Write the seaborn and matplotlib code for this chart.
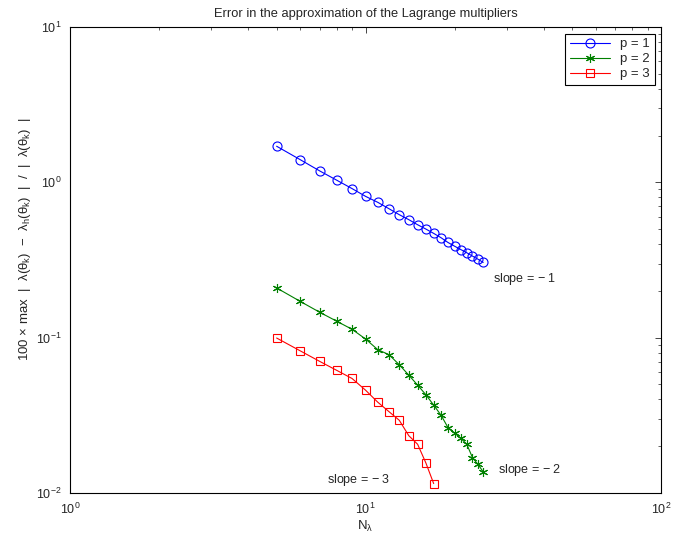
import numpy as np
import pandas as pd
import seaborn as sns
import matplotlib
matplotlib.use("Agg")
import matplotlib.pyplot as plt
from matplotlib.ticker import LogLocator, NullFormatter

# values
n_p1 = list(range(5, 26))
err_p1 = [1.707, 1.401, 1.183, 1.030, 0.911, 0.812, 0.743, 0.676, 0.619, 0.575, 0.533,
          0.500, 0.469, 0.440, 0.410, 0.388, 0.369, 0.352, 0.335, 0.320, 0.305]
n_p2 = list(range(5, 26))
err_p2 = [0.209, 0.1715, 0.1456, 0.1274, 0.1132, 0.098, 0.0837, 0.0777, 0.0670, 0.0574,
          0.0495, 0.0429, 0.0368, 0.0317, 0.0264, 0.0243, 0.0225, 0.0206, 0.0169, 0.0153, 0.0137]
n_p3 = list(range(5, 18))
err_p3 = [0.0995, 0.0824, 0.0703, 0.0615, 0.0546, 0.0459, 0.0384, 0.0334, 0.0294,
          0.0234, 0.0206, 0.0156, 0.0115]

sns.set_style("white")
plt.rcParams['font.family'] = ['Liberation Sans', 'DejaVu Sans']
plt.rcParams['mathtext.fontset'] = 'custom'
plt.rcParams['mathtext.rm'] = 'Liberation Sans'
plt.rcParams['mathtext.it'] = 'Liberation Sans'
plt.rcParams['mathtext.sf'] = 'Liberation Sans'
plt.rcParams['font.size'] = 9

fig = plt.figure(figsize=(6.76, 5.39), dpi=100)
ax = fig.add_axes([0.1036, 0.0853, 0.8744, 0.8647])

series = [
    (n_p1, err_p1, 'p = 1', '#0000ff', 'o'),
    (n_p2, err_p2, 'p = 2', '#008000', (6, 2, 0)),
    (n_p3, err_p3, 'p = 3', '#ff0000', 's'),
]
for n, err, lab, col, mk in series:
    df = pd.DataFrame({'N': n, 'err': err})
    sns.lineplot(data=df, x='N', y='err', ax=ax, color=col, label=lab,
                 marker=mk, markersize=6.5 if mk != 's' else 6,
                 markerfacecolor='none', markeredgecolor=col, markeredgewidth=0.8,
                 linewidth=0.8)

ax.set(xscale='log', yscale='log', xlim=(1, 100), ylim=(0.01, 10))
ax.xaxis.set_minor_locator(LogLocator(base=10, subs=np.arange(2, 10)))
ax.yaxis.set_minor_locator(LogLocator(base=10, subs=np.arange(2, 10)))
ax.xaxis.set_minor_formatter(NullFormatter())
ax.yaxis.set_minor_formatter(NullFormatter())
ax.tick_params(which='both', direction='in', top=True, right=True, labelsize=9)
ax.tick_params(which='major', length=4, width=0.6, pad=6)
ax.tick_params(which='minor', length=2, width=0.5)
for s in ax.spines.values():
    s.set_linewidth(0.8)
    s.set_color('black')

ax.set_title('Error in the approximation of the Lagrange multipliers', fontsize=9.3, pad=7)
ax.set_xlabel(r'N$_\lambda$', fontsize=9.5, labelpad=2)
ax.set_ylabel(r'100 $\times$ max  |  $\lambda$($\theta_\mathrm{k}$)  $-$  $\lambda_\mathrm{h}$($\theta_\mathrm{k}$)  |  /  |  $\lambda$($\theta_\mathrm{k}$)  |',
              fontsize=9.5)
ax.yaxis.set_label_coords(-0.063, 0.545)

ax.text(27.0, 0.237, 'slope = $-$ 1', fontsize=9, va='center')
ax.text(28.1, 0.0141, 'slope = $-$ 2', fontsize=9, va='center')
ax.text(7.4, 0.0121, 'slope = $-$ 3', fontsize=9, va='center')

leg = ax.legend(loc='upper right', fontsize=9.5, fancybox=False, framealpha=1,
                edgecolor='black', borderaxespad=0.5, handlelength=3.0,
                labelspacing=0.2, borderpad=0.35)
leg.get_frame().set_linewidth(0.8)

fig.savefig('out.png', dpi=100)
